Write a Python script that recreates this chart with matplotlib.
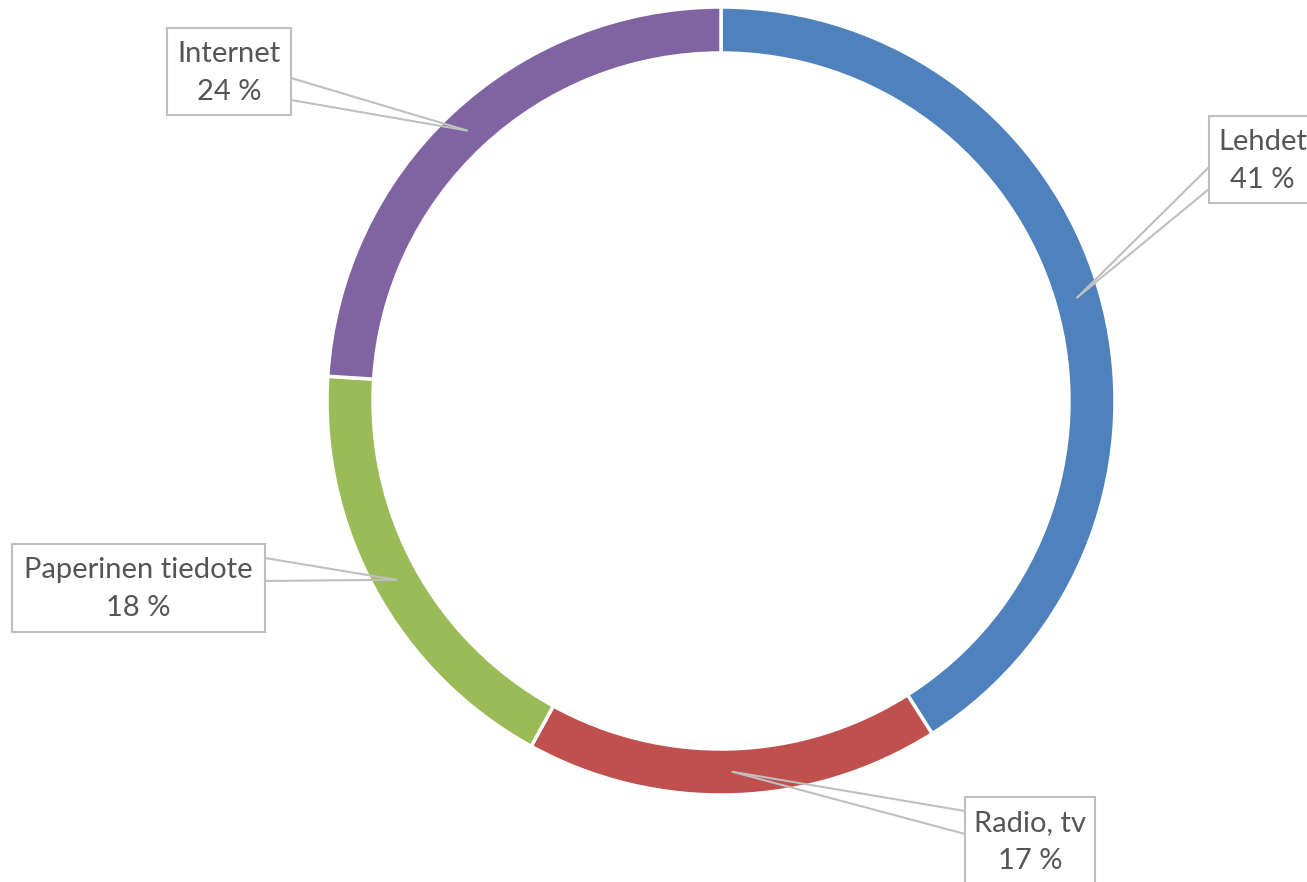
import numpy as np
import matplotlib
matplotlib.use("Agg")
import matplotlib.pyplot as plt
from matplotlib.patches import Rectangle

# Media channel shares
categories = ["Lehdet", "Radio, tv", "Paperinen tiedote", "Internet"]
shares = [41, 17, 18, 24]
colors = ["#4F81BD", "#C0504D", "#9BBB59", "#8064A2"]

W, H = 1307, 882
fig = plt.figure(figsize=(W / 100, H / 100), dpi=100)
ax = fig.add_axes([0, 0, 1, 1])

cx, cy = 721, H - 401
r_out, ring = 394, 46

wedges, _ = ax.pie(shares, colors=colors, startangle=90, counterclock=False,
                   radius=r_out, center=(cx, cy),
                   wedgeprops=dict(width=ring, edgecolor="white", linewidth=2.5))
ax.set_xlim(0, W)
ax.set_ylim(0, H)
ax.axis("off")

line_col = "#BFBFBF"
text_col = "#555555"
font = dict(family="Lato", size=21, color=text_col)

# callout boxes: (left, top, right, bottom) in pixel rows from the top,
# plus which box edge the leader attaches to and its two y positions
boxes = [
    ((1209, 116, 1316, 203), "left", (167, 189)),
    ((965, 797, 1095, 892), "left", (811, 834)),
    ((12, 544, 265, 632), "right", (558, 581)),
    ((167, 28, 291, 115), "right", (78, 100)),
]

r_mid = r_out - ring / 2
for w, name, val, (box, side, ys) in zip(wedges, categories, shares, boxes):
    ang = np.deg2rad((w.theta1 + w.theta2) / 2)
    ax_pt = (cx + r_mid * np.cos(ang), cy + r_mid * np.sin(ang))
    l, t, r, b = box
    ax.add_patch(Rectangle((l, H - b), r - l, b - t, facecolor="white",
                           edgecolor=line_col, linewidth=1.5, zorder=3))
    ex = l if side == "left" else r
    for y in ys:
        ax.plot([ex, ax_pt[0]], [H - y, ax_pt[1]], color=line_col, lw=1.5,
                zorder=4, solid_capstyle="round")
    xc = (l + r) / 2
    ax.text(xc, H - (t + 26), name, ha="center", va="center", zorder=5, **font)
    ax.text(xc, H - (t + 64), f"{val} %", ha="center", va="center", zorder=5, **font)

fig.savefig("out.png", dpi=100, facecolor="white")
